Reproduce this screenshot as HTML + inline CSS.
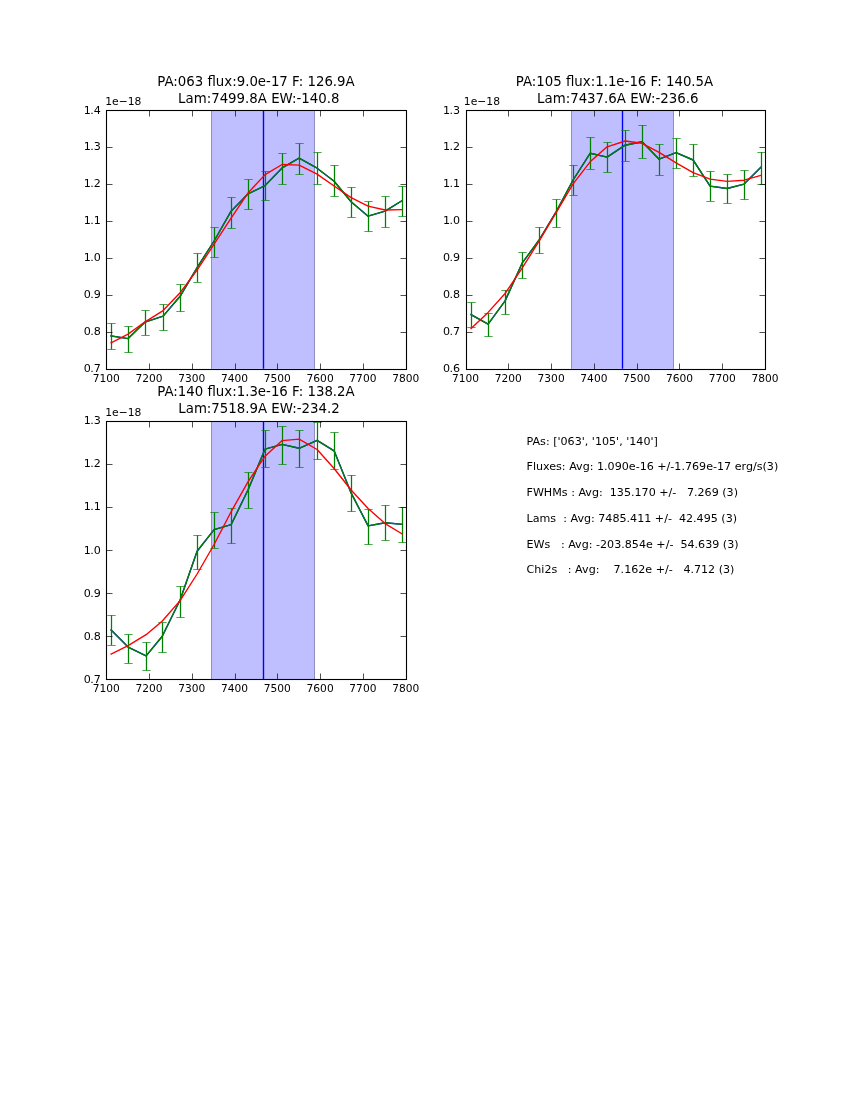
<!DOCTYPE html>
<html><head><meta charset="utf-8"><title>figure</title>
<style>html,body{margin:0;padding:0;background:#fff}svg{display:block}text{font-family:"DejaVu Sans","Liberation Sans",sans-serif;fill:#000}</style>
</head><body>
<svg width="850" height="1100" viewBox="0 0 850 1100">
<rect width="850" height="1100" fill="#fff"/>
<clipPath id="c1"><rect x="106.5" y="110.5" width="300.0" height="259.0"/></clipPath>
<g clip-path="url(#c1)">
<rect x="211.00" y="110.00" width="104.00" height="258.82" fill="#0000ff" fill-opacity="0.25"/>
<line x1="211.5" x2="211.5" y1="110.00" y2="368.82" stroke="#000" stroke-opacity="0.25" stroke-width="1"/>
<line x1="314.5" x2="314.5" y1="110.00" y2="368.82" stroke="#000" stroke-opacity="0.25" stroke-width="1"/>
<line x1="263.50" x2="263.50" y1="110.00" y2="368.82" stroke="#0000ff" stroke-width="1.39"/>
<polyline points="111.10,335.90 128.10,338.60 145.10,322.10 163.10,316.10 180.10,296.30 197.10,267.60 214.10,241.00 231.10,211.20 248.10,193.80 265.10,185.60 282.10,167.90 299.10,158.20 317.10,168.20 334.10,181.20 351.10,201.80 368.10,216.20 385.10,211.20 402.10,200.60" fill="none" stroke="#0000ff" stroke-width="1.39" stroke-linejoin="round" stroke-linecap="square"/>
<polyline points="111.10,335.90 128.10,338.60 145.10,322.10 163.10,316.10 180.10,296.30 197.10,267.60 214.10,241.00 231.10,211.20 248.10,193.80 265.10,185.60 282.10,167.90 299.10,158.20 317.10,168.20 334.10,181.20 351.10,201.80 368.10,216.20 385.10,211.20 402.10,200.60" fill="none" stroke="#008000" stroke-width="1.39" stroke-linejoin="round" stroke-linecap="square"/>
<line x1="111.5" x2="111.5" y1="323.50" y2="349.50" stroke="#008000" stroke-width="1.25"/>
<line x1="107.33" x2="115.67" y1="323.5" y2="323.5" stroke="#008000" stroke-width="0.69"/>
<line x1="107.33" x2="115.67" y1="349.5" y2="349.5" stroke="#008000" stroke-width="0.69"/>
<line x1="128.5" x2="128.5" y1="326.50" y2="352.40" stroke="#008000" stroke-width="1.25"/>
<line x1="124.33" x2="132.67" y1="326.5" y2="326.5" stroke="#008000" stroke-width="0.69"/>
<line x1="124.33" x2="132.67" y1="352.5" y2="352.5" stroke="#008000" stroke-width="0.69"/>
<line x1="145.5" x2="145.5" y1="310.60" y2="335.30" stroke="#008000" stroke-width="1.25"/>
<line x1="141.33" x2="149.67" y1="310.5" y2="310.5" stroke="#008000" stroke-width="0.69"/>
<line x1="141.33" x2="149.67" y1="335.5" y2="335.5" stroke="#008000" stroke-width="0.69"/>
<line x1="163.5" x2="163.5" y1="304.50" y2="330.50" stroke="#008000" stroke-width="1.25"/>
<line x1="159.33" x2="167.67" y1="304.5" y2="304.5" stroke="#008000" stroke-width="0.69"/>
<line x1="159.33" x2="167.67" y1="330.5" y2="330.5" stroke="#008000" stroke-width="0.69"/>
<line x1="180.5" x2="180.5" y1="284.50" y2="311.40" stroke="#008000" stroke-width="1.25"/>
<line x1="176.33" x2="184.67" y1="284.5" y2="284.5" stroke="#008000" stroke-width="0.69"/>
<line x1="176.33" x2="184.67" y1="311.5" y2="311.5" stroke="#008000" stroke-width="0.69"/>
<line x1="197.5" x2="197.5" y1="253.50" y2="282.30" stroke="#008000" stroke-width="1.25"/>
<line x1="193.33" x2="201.67" y1="253.5" y2="253.5" stroke="#008000" stroke-width="0.69"/>
<line x1="193.33" x2="201.67" y1="282.5" y2="282.5" stroke="#008000" stroke-width="0.69"/>
<line x1="214.5" x2="214.5" y1="227.40" y2="257.50" stroke="#008000" stroke-width="1.25"/>
<line x1="210.33" x2="218.67" y1="227.5" y2="227.5" stroke="#008000" stroke-width="0.69"/>
<line x1="210.33" x2="218.67" y1="257.5" y2="257.5" stroke="#008000" stroke-width="0.69"/>
<line x1="231.5" x2="231.5" y1="197.50" y2="228.40" stroke="#008000" stroke-width="1.25"/>
<line x1="227.33" x2="235.67" y1="197.5" y2="197.5" stroke="#008000" stroke-width="0.69"/>
<line x1="227.33" x2="235.67" y1="228.5" y2="228.5" stroke="#008000" stroke-width="0.69"/>
<line x1="248.5" x2="248.5" y1="179.40" y2="209.40" stroke="#008000" stroke-width="1.25"/>
<line x1="244.33" x2="252.67" y1="179.5" y2="179.5" stroke="#008000" stroke-width="0.69"/>
<line x1="244.33" x2="252.67" y1="209.5" y2="209.5" stroke="#008000" stroke-width="0.69"/>
<line x1="265.5" x2="265.5" y1="171.40" y2="200.60" stroke="#008000" stroke-width="1.25"/>
<line x1="261.33" x2="269.67" y1="171.5" y2="171.5" stroke="#008000" stroke-width="0.69"/>
<line x1="261.33" x2="269.67" y1="200.5" y2="200.5" stroke="#008000" stroke-width="0.69"/>
<line x1="282.5" x2="282.5" y1="153.50" y2="184.50" stroke="#008000" stroke-width="1.25"/>
<line x1="278.33" x2="286.67" y1="153.5" y2="153.5" stroke="#008000" stroke-width="0.69"/>
<line x1="278.33" x2="286.67" y1="184.5" y2="184.5" stroke="#008000" stroke-width="0.69"/>
<line x1="299.5" x2="299.5" y1="143.50" y2="174.50" stroke="#008000" stroke-width="1.25"/>
<line x1="295.33" x2="303.67" y1="143.5" y2="143.5" stroke="#008000" stroke-width="0.69"/>
<line x1="295.33" x2="303.67" y1="174.5" y2="174.5" stroke="#008000" stroke-width="0.69"/>
<line x1="317.5" x2="317.5" y1="152.40" y2="184.50" stroke="#008000" stroke-width="1.25"/>
<line x1="313.33" x2="321.67" y1="152.5" y2="152.5" stroke="#008000" stroke-width="0.69"/>
<line x1="313.33" x2="321.67" y1="184.5" y2="184.5" stroke="#008000" stroke-width="0.69"/>
<line x1="334.5" x2="334.5" y1="165.30" y2="196.50" stroke="#008000" stroke-width="1.25"/>
<line x1="330.33" x2="338.67" y1="165.5" y2="165.5" stroke="#008000" stroke-width="0.69"/>
<line x1="330.33" x2="338.67" y1="196.5" y2="196.5" stroke="#008000" stroke-width="0.69"/>
<line x1="351.5" x2="351.5" y1="187.40" y2="217.40" stroke="#008000" stroke-width="1.25"/>
<line x1="347.33" x2="355.67" y1="187.5" y2="187.5" stroke="#008000" stroke-width="0.69"/>
<line x1="347.33" x2="355.67" y1="217.5" y2="217.5" stroke="#008000" stroke-width="0.69"/>
<line x1="368.5" x2="368.5" y1="201.40" y2="231.40" stroke="#008000" stroke-width="1.25"/>
<line x1="364.33" x2="372.67" y1="201.5" y2="201.5" stroke="#008000" stroke-width="0.69"/>
<line x1="364.33" x2="372.67" y1="231.5" y2="231.5" stroke="#008000" stroke-width="0.69"/>
<line x1="385.5" x2="385.5" y1="196.50" y2="227.40" stroke="#008000" stroke-width="1.25"/>
<line x1="381.33" x2="389.67" y1="196.5" y2="196.5" stroke="#008000" stroke-width="0.69"/>
<line x1="381.33" x2="389.67" y1="227.5" y2="227.5" stroke="#008000" stroke-width="0.69"/>
<line x1="402.5" x2="402.5" y1="186.50" y2="216.50" stroke="#008000" stroke-width="1.25"/>
<line x1="398.33" x2="406.67" y1="186.5" y2="186.5" stroke="#008000" stroke-width="0.69"/>
<line x1="398.33" x2="406.67" y1="216.5" y2="216.5" stroke="#008000" stroke-width="0.69"/>
<polyline points="111.10,342.90 128.10,334.10 145.10,321.80 163.10,310.60 180.10,292.70 197.10,270.20 214.10,244.10 231.10,218.20 248.10,192.90 265.10,174.60 282.10,164.50 299.10,165.10 317.10,174.10 334.10,186.00 351.10,197.60 368.10,206.10 385.10,210.00 402.10,209.60" fill="none" stroke="#ff0000" stroke-width="1.39" stroke-linejoin="round" stroke-linecap="square"/>
</g>
<line x1="106.5" x2="106.5" y1="369.5" y2="363.50" stroke="#000" stroke-width="0.69"/>
<line x1="106.5" x2="106.5" y1="110.5" y2="116.50" stroke="#000" stroke-width="0.69"/>
<text x="106.25" y="382" text-anchor="middle" font-size="11.11" textLength="27.1" lengthAdjust="spacingAndGlyphs">7100</text>
<line x1="149.5" x2="149.5" y1="369.5" y2="363.50" stroke="#000" stroke-width="0.69"/>
<line x1="149.5" x2="149.5" y1="110.5" y2="116.50" stroke="#000" stroke-width="0.69"/>
<text x="149.03" y="382" text-anchor="middle" font-size="11.11" textLength="27.1" lengthAdjust="spacingAndGlyphs">7200</text>
<line x1="192.5" x2="192.5" y1="369.5" y2="363.50" stroke="#000" stroke-width="0.69"/>
<line x1="192.5" x2="192.5" y1="110.5" y2="116.50" stroke="#000" stroke-width="0.69"/>
<text x="191.80" y="382" text-anchor="middle" font-size="11.11" textLength="27.1" lengthAdjust="spacingAndGlyphs">7300</text>
<line x1="235.5" x2="235.5" y1="369.5" y2="363.50" stroke="#000" stroke-width="0.69"/>
<line x1="235.5" x2="235.5" y1="110.5" y2="116.50" stroke="#000" stroke-width="0.69"/>
<text x="234.58" y="382" text-anchor="middle" font-size="11.11" textLength="27.1" lengthAdjust="spacingAndGlyphs">7400</text>
<line x1="277.5" x2="277.5" y1="369.5" y2="363.50" stroke="#000" stroke-width="0.69"/>
<line x1="277.5" x2="277.5" y1="110.5" y2="116.50" stroke="#000" stroke-width="0.69"/>
<text x="277.35" y="382" text-anchor="middle" font-size="11.11" textLength="27.1" lengthAdjust="spacingAndGlyphs">7500</text>
<line x1="320.5" x2="320.5" y1="369.5" y2="363.50" stroke="#000" stroke-width="0.69"/>
<line x1="320.5" x2="320.5" y1="110.5" y2="116.50" stroke="#000" stroke-width="0.69"/>
<text x="320.13" y="382" text-anchor="middle" font-size="11.11" textLength="27.1" lengthAdjust="spacingAndGlyphs">7600</text>
<line x1="363.5" x2="363.5" y1="369.5" y2="363.50" stroke="#000" stroke-width="0.69"/>
<line x1="363.5" x2="363.5" y1="110.5" y2="116.50" stroke="#000" stroke-width="0.69"/>
<text x="362.90" y="382" text-anchor="middle" font-size="11.11" textLength="27.1" lengthAdjust="spacingAndGlyphs">7700</text>
<line x1="406.5" x2="406.5" y1="369.5" y2="363.50" stroke="#000" stroke-width="0.69"/>
<line x1="406.5" x2="406.5" y1="110.5" y2="116.50" stroke="#000" stroke-width="0.69"/>
<text x="405.68" y="382" text-anchor="middle" font-size="11.11" textLength="27.1" lengthAdjust="spacingAndGlyphs">7800</text>
<line x1="106.5" x2="112.50" y1="369.5" y2="369.5" stroke="#000" stroke-width="0.69"/>
<line x1="406.5" x2="400.50" y1="369.5" y2="369.5" stroke="#000" stroke-width="0.69"/>
<text x="100.75" y="372" text-anchor="end" font-size="11.11">0<tspan dx="-0.7">.</tspan>7</text>
<line x1="106.5" x2="112.50" y1="332.5" y2="332.5" stroke="#000" stroke-width="0.69"/>
<line x1="406.5" x2="400.50" y1="332.5" y2="332.5" stroke="#000" stroke-width="0.69"/>
<text x="100.75" y="335" text-anchor="end" font-size="11.11">0<tspan dx="-0.7">.</tspan>8</text>
<line x1="106.5" x2="112.50" y1="295.5" y2="295.5" stroke="#000" stroke-width="0.69"/>
<line x1="406.5" x2="400.50" y1="295.5" y2="295.5" stroke="#000" stroke-width="0.69"/>
<text x="100.75" y="298" text-anchor="end" font-size="11.11">0<tspan dx="-0.7">.</tspan>9</text>
<line x1="106.5" x2="112.50" y1="258.5" y2="258.5" stroke="#000" stroke-width="0.69"/>
<line x1="406.5" x2="400.50" y1="258.5" y2="258.5" stroke="#000" stroke-width="0.69"/>
<text x="100.75" y="261" text-anchor="end" font-size="11.11">1<tspan dx="-0.7">.</tspan>0</text>
<line x1="106.5" x2="112.50" y1="221.5" y2="221.5" stroke="#000" stroke-width="0.69"/>
<line x1="406.5" x2="400.50" y1="221.5" y2="221.5" stroke="#000" stroke-width="0.69"/>
<text x="100.75" y="224" text-anchor="end" font-size="11.11">1<tspan dx="-0.7">.</tspan>1</text>
<line x1="106.5" x2="112.50" y1="184.5" y2="184.5" stroke="#000" stroke-width="0.69"/>
<line x1="406.5" x2="400.50" y1="184.5" y2="184.5" stroke="#000" stroke-width="0.69"/>
<text x="100.75" y="187" text-anchor="end" font-size="11.11">1<tspan dx="-0.7">.</tspan>2</text>
<line x1="106.5" x2="112.50" y1="147.5" y2="147.5" stroke="#000" stroke-width="0.69"/>
<line x1="406.5" x2="400.50" y1="147.5" y2="147.5" stroke="#000" stroke-width="0.69"/>
<text x="100.75" y="150" text-anchor="end" font-size="11.11">1<tspan dx="-0.7">.</tspan>3</text>
<line x1="106.5" x2="112.50" y1="110.5" y2="110.5" stroke="#000" stroke-width="0.69"/>
<line x1="406.5" x2="400.50" y1="110.5" y2="110.5" stroke="#000" stroke-width="0.69"/>
<text x="100.75" y="114" text-anchor="end" font-size="11.11">1<tspan dx="-0.7">.</tspan>4</text>
<rect x="106.5" y="110.5" width="300.0" height="259.0" fill="none" stroke="#000" stroke-width="1.1"/>
<text x="105.25" y="105" font-size="11.11" textLength="36.2" lengthAdjust="spacingAndGlyphs">1e−18</text>
<text x="255.97" y="86" text-anchor="middle" font-size="13.33">PA:063 flux:9.0e-17 F: 126.9A</text>
<text x="258.77" y="103" text-anchor="middle" font-size="13.33">Lam:7499.8A EW:-140.8</text>
<clipPath id="c2"><rect x="466.5" y="110.5" width="299.0" height="259.0"/></clipPath>
<g clip-path="url(#c2)">
<rect x="571.00" y="110.00" width="103.00" height="258.82" fill="#0000ff" fill-opacity="0.25"/>
<line x1="571.5" x2="571.5" y1="110.00" y2="368.82" stroke="#000" stroke-opacity="0.25" stroke-width="1"/>
<line x1="673.5" x2="673.5" y1="110.00" y2="368.82" stroke="#000" stroke-opacity="0.25" stroke-width="1"/>
<line x1="622.50" x2="622.50" y1="110.00" y2="368.82" stroke="#0000ff" stroke-width="1.39"/>
<polyline points="471.10,314.70 488.10,324.10 505.10,300.90 522.10,263.20 539.10,240.00 556.10,211.80 573.10,180.00 590.10,153.30 607.10,157.10 625.10,145.20 642.10,141.80 659.10,159.20 676.10,152.60 693.10,160.00 710.10,186.10 727.10,188.50 744.10,184.10 761.10,167.10" fill="none" stroke="#0000ff" stroke-width="1.39" stroke-linejoin="round" stroke-linecap="square"/>
<polyline points="471.10,314.70 488.10,324.10 505.10,300.90 522.10,263.20 539.10,240.00 556.10,211.80 573.10,180.00 590.10,153.30 607.10,157.10 625.10,145.20 642.10,141.80 659.10,159.20 676.10,152.60 693.10,160.00 710.10,186.10 727.10,188.50 744.10,184.10 761.10,167.10" fill="none" stroke="#008000" stroke-width="1.39" stroke-linejoin="round" stroke-linecap="square"/>
<line x1="471.5" x2="471.5" y1="302.40" y2="327.60" stroke="#008000" stroke-width="1.25"/>
<line x1="467.33" x2="475.67" y1="302.5" y2="302.5" stroke="#008000" stroke-width="0.69"/>
<line x1="467.33" x2="475.67" y1="327.5" y2="327.5" stroke="#008000" stroke-width="0.69"/>
<line x1="488.5" x2="488.5" y1="313.50" y2="336.50" stroke="#008000" stroke-width="1.25"/>
<line x1="484.33" x2="492.67" y1="313.5" y2="313.5" stroke="#008000" stroke-width="0.69"/>
<line x1="484.33" x2="492.67" y1="336.5" y2="336.5" stroke="#008000" stroke-width="0.69"/>
<line x1="505.5" x2="505.5" y1="290.60" y2="314.50" stroke="#008000" stroke-width="1.25"/>
<line x1="501.33" x2="509.67" y1="290.5" y2="290.5" stroke="#008000" stroke-width="0.69"/>
<line x1="501.33" x2="509.67" y1="314.5" y2="314.5" stroke="#008000" stroke-width="0.69"/>
<line x1="522.5" x2="522.5" y1="252.40" y2="278.40" stroke="#008000" stroke-width="1.25"/>
<line x1="518.33" x2="526.67" y1="252.5" y2="252.5" stroke="#008000" stroke-width="0.69"/>
<line x1="518.33" x2="526.67" y1="278.5" y2="278.5" stroke="#008000" stroke-width="0.69"/>
<line x1="539.5" x2="539.5" y1="227.40" y2="253.50" stroke="#008000" stroke-width="1.25"/>
<line x1="535.33" x2="543.67" y1="227.5" y2="227.5" stroke="#008000" stroke-width="0.69"/>
<line x1="535.33" x2="543.67" y1="253.5" y2="253.5" stroke="#008000" stroke-width="0.69"/>
<line x1="556.5" x2="556.5" y1="199.40" y2="227.40" stroke="#008000" stroke-width="1.25"/>
<line x1="552.33" x2="560.67" y1="199.5" y2="199.5" stroke="#008000" stroke-width="0.69"/>
<line x1="552.33" x2="560.67" y1="227.5" y2="227.5" stroke="#008000" stroke-width="0.69"/>
<line x1="573.5" x2="573.5" y1="165.30" y2="195.30" stroke="#008000" stroke-width="1.25"/>
<line x1="569.33" x2="577.67" y1="165.5" y2="165.5" stroke="#008000" stroke-width="0.69"/>
<line x1="569.33" x2="577.67" y1="195.5" y2="195.5" stroke="#008000" stroke-width="0.69"/>
<line x1="590.5" x2="590.5" y1="137.60" y2="169.40" stroke="#008000" stroke-width="1.25"/>
<line x1="586.33" x2="594.67" y1="137.5" y2="137.5" stroke="#008000" stroke-width="0.69"/>
<line x1="586.33" x2="594.67" y1="169.5" y2="169.5" stroke="#008000" stroke-width="0.69"/>
<line x1="607.5" x2="607.5" y1="142.40" y2="172.40" stroke="#008000" stroke-width="1.25"/>
<line x1="603.33" x2="611.67" y1="142.5" y2="142.5" stroke="#008000" stroke-width="0.69"/>
<line x1="603.33" x2="611.67" y1="172.5" y2="172.5" stroke="#008000" stroke-width="0.69"/>
<line x1="625.5" x2="625.5" y1="130.60" y2="161.30" stroke="#008000" stroke-width="1.25"/>
<line x1="621.33" x2="629.67" y1="130.5" y2="130.5" stroke="#008000" stroke-width="0.69"/>
<line x1="621.33" x2="629.67" y1="161.5" y2="161.5" stroke="#008000" stroke-width="0.69"/>
<line x1="642.5" x2="642.5" y1="125.30" y2="158.20" stroke="#008000" stroke-width="1.25"/>
<line x1="638.33" x2="646.67" y1="125.5" y2="125.5" stroke="#008000" stroke-width="0.69"/>
<line x1="638.33" x2="646.67" y1="158.5" y2="158.5" stroke="#008000" stroke-width="0.69"/>
<line x1="659.5" x2="659.5" y1="144.50" y2="175.30" stroke="#008000" stroke-width="1.25"/>
<line x1="655.33" x2="663.67" y1="144.5" y2="144.5" stroke="#008000" stroke-width="0.69"/>
<line x1="655.33" x2="663.67" y1="175.5" y2="175.5" stroke="#008000" stroke-width="0.69"/>
<line x1="676.5" x2="676.5" y1="138.50" y2="168.20" stroke="#008000" stroke-width="1.25"/>
<line x1="672.33" x2="680.67" y1="138.5" y2="138.5" stroke="#008000" stroke-width="0.69"/>
<line x1="672.33" x2="680.67" y1="168.5" y2="168.5" stroke="#008000" stroke-width="0.69"/>
<line x1="693.5" x2="693.5" y1="144.50" y2="176.50" stroke="#008000" stroke-width="1.25"/>
<line x1="689.33" x2="697.67" y1="144.5" y2="144.5" stroke="#008000" stroke-width="0.69"/>
<line x1="689.33" x2="697.67" y1="176.5" y2="176.5" stroke="#008000" stroke-width="0.69"/>
<line x1="710.5" x2="710.5" y1="171.40" y2="201.20" stroke="#008000" stroke-width="1.25"/>
<line x1="706.33" x2="714.67" y1="171.5" y2="171.5" stroke="#008000" stroke-width="0.69"/>
<line x1="706.33" x2="714.67" y1="201.5" y2="201.5" stroke="#008000" stroke-width="0.69"/>
<line x1="727.5" x2="727.5" y1="174.50" y2="203.50" stroke="#008000" stroke-width="1.25"/>
<line x1="723.33" x2="731.67" y1="174.5" y2="174.5" stroke="#008000" stroke-width="0.69"/>
<line x1="723.33" x2="731.67" y1="203.5" y2="203.5" stroke="#008000" stroke-width="0.69"/>
<line x1="744.5" x2="744.5" y1="170.60" y2="199.50" stroke="#008000" stroke-width="1.25"/>
<line x1="740.33" x2="748.67" y1="170.5" y2="170.5" stroke="#008000" stroke-width="0.69"/>
<line x1="740.33" x2="748.67" y1="199.5" y2="199.5" stroke="#008000" stroke-width="0.69"/>
<line x1="761.5" x2="761.5" y1="152.10" y2="184.10" stroke="#008000" stroke-width="1.25"/>
<line x1="757.33" x2="765.67" y1="152.5" y2="152.5" stroke="#008000" stroke-width="0.69"/>
<line x1="757.33" x2="765.67" y1="184.5" y2="184.5" stroke="#008000" stroke-width="0.69"/>
<polyline points="471.10,328.50 488.10,312.40 505.10,293.50 522.10,268.20 539.10,241.20 556.10,212.60 573.10,183.80 590.10,161.80 607.10,146.80 625.10,141.00 642.10,143.30 659.10,152.40 676.10,162.90 693.10,172.60 710.10,179.10 727.10,181.40 744.10,180.20 761.10,175.30" fill="none" stroke="#ff0000" stroke-width="1.39" stroke-linejoin="round" stroke-linecap="square"/>
</g>
<line x1="466.5" x2="466.5" y1="369.5" y2="363.50" stroke="#000" stroke-width="0.69"/>
<line x1="466.5" x2="466.5" y1="110.5" y2="116.50" stroke="#000" stroke-width="0.69"/>
<text x="465.57" y="382" text-anchor="middle" font-size="11.11" textLength="27.1" lengthAdjust="spacingAndGlyphs">7100</text>
<line x1="508.5" x2="508.5" y1="369.5" y2="363.50" stroke="#000" stroke-width="0.69"/>
<line x1="508.5" x2="508.5" y1="110.5" y2="116.50" stroke="#000" stroke-width="0.69"/>
<text x="508.34" y="382" text-anchor="middle" font-size="11.11" textLength="27.1" lengthAdjust="spacingAndGlyphs">7200</text>
<line x1="551.5" x2="551.5" y1="369.5" y2="363.50" stroke="#000" stroke-width="0.69"/>
<line x1="551.5" x2="551.5" y1="110.5" y2="116.50" stroke="#000" stroke-width="0.69"/>
<text x="551.12" y="382" text-anchor="middle" font-size="11.11" textLength="27.1" lengthAdjust="spacingAndGlyphs">7300</text>
<line x1="594.5" x2="594.5" y1="369.5" y2="363.50" stroke="#000" stroke-width="0.69"/>
<line x1="594.5" x2="594.5" y1="110.5" y2="116.50" stroke="#000" stroke-width="0.69"/>
<text x="593.90" y="382" text-anchor="middle" font-size="11.11" textLength="27.1" lengthAdjust="spacingAndGlyphs">7400</text>
<line x1="637.5" x2="637.5" y1="369.5" y2="363.50" stroke="#000" stroke-width="0.69"/>
<line x1="637.5" x2="637.5" y1="110.5" y2="116.50" stroke="#000" stroke-width="0.69"/>
<text x="636.67" y="382" text-anchor="middle" font-size="11.11" textLength="27.1" lengthAdjust="spacingAndGlyphs">7500</text>
<line x1="679.5" x2="679.5" y1="369.5" y2="363.50" stroke="#000" stroke-width="0.69"/>
<line x1="679.5" x2="679.5" y1="110.5" y2="116.50" stroke="#000" stroke-width="0.69"/>
<text x="679.45" y="382" text-anchor="middle" font-size="11.11" textLength="27.1" lengthAdjust="spacingAndGlyphs">7600</text>
<line x1="722.5" x2="722.5" y1="369.5" y2="363.50" stroke="#000" stroke-width="0.69"/>
<line x1="722.5" x2="722.5" y1="110.5" y2="116.50" stroke="#000" stroke-width="0.69"/>
<text x="722.22" y="382" text-anchor="middle" font-size="11.11" textLength="27.1" lengthAdjust="spacingAndGlyphs">7700</text>
<line x1="765.5" x2="765.5" y1="369.5" y2="363.50" stroke="#000" stroke-width="0.69"/>
<line x1="765.5" x2="765.5" y1="110.5" y2="116.50" stroke="#000" stroke-width="0.69"/>
<text x="765.00" y="382" text-anchor="middle" font-size="11.11" textLength="27.1" lengthAdjust="spacingAndGlyphs">7800</text>
<line x1="466.5" x2="472.50" y1="369.5" y2="369.5" stroke="#000" stroke-width="0.69"/>
<line x1="765.5" x2="759.50" y1="369.5" y2="369.5" stroke="#000" stroke-width="0.69"/>
<text x="460.07" y="372" text-anchor="end" font-size="11.11">0<tspan dx="-0.7">.</tspan>6</text>
<line x1="466.5" x2="472.50" y1="332.5" y2="332.5" stroke="#000" stroke-width="0.69"/>
<line x1="765.5" x2="759.50" y1="332.5" y2="332.5" stroke="#000" stroke-width="0.69"/>
<text x="460.07" y="335" text-anchor="end" font-size="11.11">0<tspan dx="-0.7">.</tspan>7</text>
<line x1="466.5" x2="472.50" y1="295.5" y2="295.5" stroke="#000" stroke-width="0.69"/>
<line x1="765.5" x2="759.50" y1="295.5" y2="295.5" stroke="#000" stroke-width="0.69"/>
<text x="460.07" y="298" text-anchor="end" font-size="11.11">0<tspan dx="-0.7">.</tspan>8</text>
<line x1="466.5" x2="472.50" y1="258.5" y2="258.5" stroke="#000" stroke-width="0.69"/>
<line x1="765.5" x2="759.50" y1="258.5" y2="258.5" stroke="#000" stroke-width="0.69"/>
<text x="460.07" y="261" text-anchor="end" font-size="11.11">0<tspan dx="-0.7">.</tspan>9</text>
<line x1="466.5" x2="472.50" y1="221.5" y2="221.5" stroke="#000" stroke-width="0.69"/>
<line x1="765.5" x2="759.50" y1="221.5" y2="221.5" stroke="#000" stroke-width="0.69"/>
<text x="460.07" y="224" text-anchor="end" font-size="11.11">1<tspan dx="-0.7">.</tspan>0</text>
<line x1="466.5" x2="472.50" y1="184.5" y2="184.5" stroke="#000" stroke-width="0.69"/>
<line x1="765.5" x2="759.50" y1="184.5" y2="184.5" stroke="#000" stroke-width="0.69"/>
<text x="460.07" y="187" text-anchor="end" font-size="11.11">1<tspan dx="-0.7">.</tspan>1</text>
<line x1="466.5" x2="472.50" y1="147.5" y2="147.5" stroke="#000" stroke-width="0.69"/>
<line x1="765.5" x2="759.50" y1="147.5" y2="147.5" stroke="#000" stroke-width="0.69"/>
<text x="460.07" y="150" text-anchor="end" font-size="11.11">1<tspan dx="-0.7">.</tspan>2</text>
<line x1="466.5" x2="472.50" y1="110.5" y2="110.5" stroke="#000" stroke-width="0.69"/>
<line x1="765.5" x2="759.50" y1="110.5" y2="110.5" stroke="#000" stroke-width="0.69"/>
<text x="460.07" y="114" text-anchor="end" font-size="11.11">1<tspan dx="-0.7">.</tspan>3</text>
<rect x="466.5" y="110.5" width="299.0" height="259.0" fill="none" stroke="#000" stroke-width="1.1"/>
<text x="463.87" y="105" font-size="11.11" textLength="36.2" lengthAdjust="spacingAndGlyphs">1e−18</text>
<text x="614.48" y="86" text-anchor="middle" font-size="13.33">PA:105 flux:1.1e-16 F: 140.5A</text>
<text x="617.78" y="103" text-anchor="middle" font-size="13.33">Lam:7437.6A EW:-236.6</text>
<clipPath id="c3"><rect x="106.5" y="421.5" width="300.0" height="258.0"/></clipPath>
<g clip-path="url(#c3)">
<rect x="211.00" y="420.59" width="104.00" height="258.82" fill="#0000ff" fill-opacity="0.25"/>
<line x1="211.5" x2="211.5" y1="420.59" y2="679.41" stroke="#000" stroke-opacity="0.25" stroke-width="1"/>
<line x1="314.5" x2="314.5" y1="420.59" y2="679.41" stroke="#000" stroke-opacity="0.25" stroke-width="1"/>
<line x1="263.50" x2="263.50" y1="420.59" y2="679.41" stroke="#0000ff" stroke-width="1.39"/>
<polyline points="111.10,630.00 128.10,647.10 146.10,655.90 162.10,636.50 180.10,600.00 197.10,551.20 214.10,529.60 231.10,524.70 248.10,489.80 265.10,449.10 282.10,444.40 299.10,448.30 317.10,440.30 334.10,450.80 351.10,492.90 368.10,525.90 385.10,522.70 402.10,524.30" fill="none" stroke="#0000ff" stroke-width="1.39" stroke-linejoin="round" stroke-linecap="square"/>
<polyline points="111.10,630.00 128.10,647.10 146.10,655.90 162.10,636.50 180.10,600.00 197.10,551.20 214.10,529.60 231.10,524.70 248.10,489.80 265.10,449.10 282.10,444.40 299.10,448.30 317.10,440.30 334.10,450.80 351.10,492.90 368.10,525.90 385.10,522.70 402.10,524.30" fill="none" stroke="#008000" stroke-width="1.39" stroke-linejoin="round" stroke-linecap="square"/>
<line x1="111.5" x2="111.5" y1="615.30" y2="645.30" stroke="#008000" stroke-width="1.25"/>
<line x1="107.33" x2="115.67" y1="615.5" y2="615.5" stroke="#008000" stroke-width="0.69"/>
<line x1="107.33" x2="115.67" y1="645.5" y2="645.5" stroke="#008000" stroke-width="0.69"/>
<line x1="128.5" x2="128.5" y1="634.50" y2="663.30" stroke="#008000" stroke-width="1.25"/>
<line x1="124.33" x2="132.67" y1="634.5" y2="634.5" stroke="#008000" stroke-width="0.69"/>
<line x1="124.33" x2="132.67" y1="663.5" y2="663.5" stroke="#008000" stroke-width="0.69"/>
<line x1="146.5" x2="146.5" y1="642.40" y2="670.40" stroke="#008000" stroke-width="1.25"/>
<line x1="142.33" x2="150.67" y1="642.5" y2="642.5" stroke="#008000" stroke-width="0.69"/>
<line x1="142.33" x2="150.67" y1="670.5" y2="670.5" stroke="#008000" stroke-width="0.69"/>
<line x1="162.5" x2="162.5" y1="622.40" y2="652.40" stroke="#008000" stroke-width="1.25"/>
<line x1="158.33" x2="166.67" y1="622.5" y2="622.5" stroke="#008000" stroke-width="0.69"/>
<line x1="158.33" x2="166.67" y1="652.5" y2="652.5" stroke="#008000" stroke-width="0.69"/>
<line x1="180.5" x2="180.5" y1="586.50" y2="617.40" stroke="#008000" stroke-width="1.25"/>
<line x1="176.33" x2="184.67" y1="586.5" y2="586.5" stroke="#008000" stroke-width="0.69"/>
<line x1="176.33" x2="184.67" y1="617.5" y2="617.5" stroke="#008000" stroke-width="0.69"/>
<line x1="197.5" x2="197.5" y1="535.30" y2="569.40" stroke="#008000" stroke-width="1.25"/>
<line x1="193.33" x2="201.67" y1="535.5" y2="535.5" stroke="#008000" stroke-width="0.69"/>
<line x1="193.33" x2="201.67" y1="569.5" y2="569.5" stroke="#008000" stroke-width="0.69"/>
<line x1="214.5" x2="214.5" y1="512.40" y2="548.20" stroke="#008000" stroke-width="1.25"/>
<line x1="210.33" x2="218.67" y1="512.5" y2="512.5" stroke="#008000" stroke-width="0.69"/>
<line x1="210.33" x2="218.67" y1="548.5" y2="548.5" stroke="#008000" stroke-width="0.69"/>
<line x1="231.5" x2="231.5" y1="508.20" y2="543.50" stroke="#008000" stroke-width="1.25"/>
<line x1="227.33" x2="235.67" y1="508.5" y2="508.5" stroke="#008000" stroke-width="0.69"/>
<line x1="227.33" x2="235.67" y1="543.5" y2="543.5" stroke="#008000" stroke-width="0.69"/>
<line x1="248.5" x2="248.5" y1="472.40" y2="508.50" stroke="#008000" stroke-width="1.25"/>
<line x1="244.33" x2="252.67" y1="472.5" y2="472.5" stroke="#008000" stroke-width="0.69"/>
<line x1="244.33" x2="252.67" y1="508.5" y2="508.5" stroke="#008000" stroke-width="0.69"/>
<line x1="265.5" x2="265.5" y1="430.50" y2="467.40" stroke="#008000" stroke-width="1.25"/>
<line x1="261.33" x2="269.67" y1="430.5" y2="430.5" stroke="#008000" stroke-width="0.69"/>
<line x1="261.33" x2="269.67" y1="467.5" y2="467.5" stroke="#008000" stroke-width="0.69"/>
<line x1="282.5" x2="282.5" y1="426.40" y2="464.40" stroke="#008000" stroke-width="1.25"/>
<line x1="278.33" x2="286.67" y1="426.5" y2="426.5" stroke="#008000" stroke-width="0.69"/>
<line x1="278.33" x2="286.67" y1="464.5" y2="464.5" stroke="#008000" stroke-width="0.69"/>
<line x1="299.5" x2="299.5" y1="430.50" y2="467.40" stroke="#008000" stroke-width="1.25"/>
<line x1="295.33" x2="303.67" y1="430.5" y2="430.5" stroke="#008000" stroke-width="0.69"/>
<line x1="295.33" x2="303.67" y1="467.5" y2="467.5" stroke="#008000" stroke-width="0.69"/>
<line x1="317.5" x2="317.5" y1="422.60" y2="459.50" stroke="#008000" stroke-width="1.25"/>
<line x1="313.33" x2="321.67" y1="422.5" y2="422.5" stroke="#008000" stroke-width="0.69"/>
<line x1="313.33" x2="321.67" y1="459.5" y2="459.5" stroke="#008000" stroke-width="0.69"/>
<line x1="334.5" x2="334.5" y1="432.40" y2="469.40" stroke="#008000" stroke-width="1.25"/>
<line x1="330.33" x2="338.67" y1="432.5" y2="432.5" stroke="#008000" stroke-width="0.69"/>
<line x1="330.33" x2="338.67" y1="469.5" y2="469.5" stroke="#008000" stroke-width="0.69"/>
<line x1="351.5" x2="351.5" y1="475.30" y2="511.40" stroke="#008000" stroke-width="1.25"/>
<line x1="347.33" x2="355.67" y1="475.5" y2="475.5" stroke="#008000" stroke-width="0.69"/>
<line x1="347.33" x2="355.67" y1="511.5" y2="511.5" stroke="#008000" stroke-width="0.69"/>
<line x1="368.5" x2="368.5" y1="509.40" y2="544.50" stroke="#008000" stroke-width="1.25"/>
<line x1="364.33" x2="372.67" y1="509.5" y2="509.5" stroke="#008000" stroke-width="0.69"/>
<line x1="364.33" x2="372.67" y1="544.5" y2="544.5" stroke="#008000" stroke-width="0.69"/>
<line x1="385.5" x2="385.5" y1="505.30" y2="540.60" stroke="#008000" stroke-width="1.25"/>
<line x1="381.33" x2="389.67" y1="505.5" y2="505.5" stroke="#008000" stroke-width="0.69"/>
<line x1="381.33" x2="389.67" y1="540.5" y2="540.5" stroke="#008000" stroke-width="0.69"/>
<line x1="402.5" x2="402.5" y1="507.40" y2="542.40" stroke="#008000" stroke-width="1.25"/>
<line x1="398.33" x2="406.67" y1="507.5" y2="507.5" stroke="#008000" stroke-width="0.69"/>
<line x1="398.33" x2="406.67" y1="542.5" y2="542.5" stroke="#008000" stroke-width="0.69"/>
<polyline points="111.10,654.10 128.10,645.60 146.10,634.70 162.10,621.20 180.10,600.60 197.10,574.00 214.10,544.50 231.10,511.80 248.10,481.60 265.10,456.20 282.10,440.60 299.10,439.10 317.10,449.50 334.10,468.50 351.10,490.00 368.10,508.50 385.10,523.60 402.10,533.90" fill="none" stroke="#ff0000" stroke-width="1.39" stroke-linejoin="round" stroke-linecap="square"/>
</g>
<line x1="106.5" x2="106.5" y1="679.5" y2="673.50" stroke="#000" stroke-width="0.69"/>
<line x1="106.5" x2="106.5" y1="421.5" y2="427.50" stroke="#000" stroke-width="0.69"/>
<text x="106.25" y="692" text-anchor="middle" font-size="11.11" textLength="27.1" lengthAdjust="spacingAndGlyphs">7100</text>
<line x1="149.5" x2="149.5" y1="679.5" y2="673.50" stroke="#000" stroke-width="0.69"/>
<line x1="149.5" x2="149.5" y1="421.5" y2="427.50" stroke="#000" stroke-width="0.69"/>
<text x="149.03" y="692" text-anchor="middle" font-size="11.11" textLength="27.1" lengthAdjust="spacingAndGlyphs">7200</text>
<line x1="192.5" x2="192.5" y1="679.5" y2="673.50" stroke="#000" stroke-width="0.69"/>
<line x1="192.5" x2="192.5" y1="421.5" y2="427.50" stroke="#000" stroke-width="0.69"/>
<text x="191.80" y="692" text-anchor="middle" font-size="11.11" textLength="27.1" lengthAdjust="spacingAndGlyphs">7300</text>
<line x1="235.5" x2="235.5" y1="679.5" y2="673.50" stroke="#000" stroke-width="0.69"/>
<line x1="235.5" x2="235.5" y1="421.5" y2="427.50" stroke="#000" stroke-width="0.69"/>
<text x="234.58" y="692" text-anchor="middle" font-size="11.11" textLength="27.1" lengthAdjust="spacingAndGlyphs">7400</text>
<line x1="277.5" x2="277.5" y1="679.5" y2="673.50" stroke="#000" stroke-width="0.69"/>
<line x1="277.5" x2="277.5" y1="421.5" y2="427.50" stroke="#000" stroke-width="0.69"/>
<text x="277.35" y="692" text-anchor="middle" font-size="11.11" textLength="27.1" lengthAdjust="spacingAndGlyphs">7500</text>
<line x1="320.5" x2="320.5" y1="679.5" y2="673.50" stroke="#000" stroke-width="0.69"/>
<line x1="320.5" x2="320.5" y1="421.5" y2="427.50" stroke="#000" stroke-width="0.69"/>
<text x="320.13" y="692" text-anchor="middle" font-size="11.11" textLength="27.1" lengthAdjust="spacingAndGlyphs">7600</text>
<line x1="363.5" x2="363.5" y1="679.5" y2="673.50" stroke="#000" stroke-width="0.69"/>
<line x1="363.5" x2="363.5" y1="421.5" y2="427.50" stroke="#000" stroke-width="0.69"/>
<text x="362.90" y="692" text-anchor="middle" font-size="11.11" textLength="27.1" lengthAdjust="spacingAndGlyphs">7700</text>
<line x1="406.5" x2="406.5" y1="679.5" y2="673.50" stroke="#000" stroke-width="0.69"/>
<line x1="406.5" x2="406.5" y1="421.5" y2="427.50" stroke="#000" stroke-width="0.69"/>
<text x="405.68" y="692" text-anchor="middle" font-size="11.11" textLength="27.1" lengthAdjust="spacingAndGlyphs">7800</text>
<line x1="106.5" x2="112.50" y1="679.5" y2="679.5" stroke="#000" stroke-width="0.69"/>
<line x1="406.5" x2="400.50" y1="679.5" y2="679.5" stroke="#000" stroke-width="0.69"/>
<text x="100.75" y="683" text-anchor="end" font-size="11.11">0<tspan dx="-0.7">.</tspan>7</text>
<line x1="106.5" x2="112.50" y1="636.5" y2="636.5" stroke="#000" stroke-width="0.69"/>
<line x1="406.5" x2="400.50" y1="636.5" y2="636.5" stroke="#000" stroke-width="0.69"/>
<text x="100.75" y="640" text-anchor="end" font-size="11.11">0<tspan dx="-0.7">.</tspan>8</text>
<line x1="106.5" x2="112.50" y1="593.5" y2="593.5" stroke="#000" stroke-width="0.69"/>
<line x1="406.5" x2="400.50" y1="593.5" y2="593.5" stroke="#000" stroke-width="0.69"/>
<text x="100.75" y="597" text-anchor="end" font-size="11.11">0<tspan dx="-0.7">.</tspan>9</text>
<line x1="106.5" x2="112.50" y1="550.5" y2="550.5" stroke="#000" stroke-width="0.69"/>
<line x1="406.5" x2="400.50" y1="550.5" y2="550.5" stroke="#000" stroke-width="0.69"/>
<text x="100.75" y="554" text-anchor="end" font-size="11.11">1<tspan dx="-0.7">.</tspan>0</text>
<line x1="106.5" x2="112.50" y1="507.5" y2="507.5" stroke="#000" stroke-width="0.69"/>
<line x1="406.5" x2="400.50" y1="507.5" y2="507.5" stroke="#000" stroke-width="0.69"/>
<text x="100.75" y="510" text-anchor="end" font-size="11.11">1<tspan dx="-0.7">.</tspan>1</text>
<line x1="106.5" x2="112.50" y1="464.5" y2="464.5" stroke="#000" stroke-width="0.69"/>
<line x1="406.5" x2="400.50" y1="464.5" y2="464.5" stroke="#000" stroke-width="0.69"/>
<text x="100.75" y="467" text-anchor="end" font-size="11.11">1<tspan dx="-0.7">.</tspan>2</text>
<line x1="106.5" x2="112.50" y1="421.5" y2="421.5" stroke="#000" stroke-width="0.69"/>
<line x1="406.5" x2="400.50" y1="421.5" y2="421.5" stroke="#000" stroke-width="0.69"/>
<text x="100.75" y="424" text-anchor="end" font-size="11.11">1<tspan dx="-0.7">.</tspan>3</text>
<rect x="106.5" y="421.5" width="300.0" height="258.0" fill="none" stroke="#000" stroke-width="1.1"/>
<text x="105.25" y="416" font-size="11.11" textLength="36.2" lengthAdjust="spacingAndGlyphs">1e−18</text>
<text x="255.97" y="396" text-anchor="middle" font-size="13.33">PA:140 flux:1.3e-16 F: 138.2A</text>
<text x="258.97" y="413" text-anchor="middle" font-size="13.33">Lam:7518.9A EW:-234.2</text>
<text x="526.5" y="445" font-size="11.11" xml:space="preserve">PAs: ['063', '105', '140']</text>
<text x="526.5" y="470" font-size="11.11" xml:space="preserve">Fluxes: Avg: 1.090e-16 +/-1.769e-17 erg/s(3)</text>
<text x="526.5" y="496" font-size="11.11" xml:space="preserve">FWHMs : Avg:  135.170 +/-   7.269 (3)</text>
<text x="526.5" y="522" font-size="11.11" xml:space="preserve">Lams  : Avg: 7485.411 +/-  42.495 (3)</text>
<text x="526.5" y="548" font-size="11.11" xml:space="preserve">EWs   : Avg: -203.854e +/-  54.639 (3)</text>
<text x="526.5" y="573" font-size="11.11" xml:space="preserve">Chi2s   : Avg:    7.162e +/-   4.712 (3)</text>
</svg>
</body></html>
